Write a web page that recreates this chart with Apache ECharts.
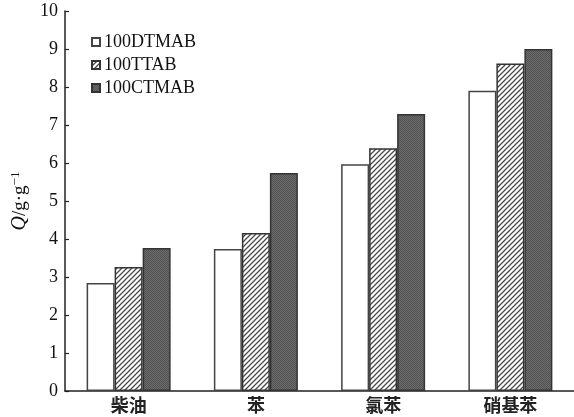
<!DOCTYPE html>
<html>
<head>
<meta charset="utf-8">
<script src="https://cdn.jsdelivr.net/npm/echarts@6/dist/echarts.min.js"></script>
<style>
  html, body { margin: 0; padding: 0; background: #fff; }
  #chart { width: 574px; height: 417px; }
</style>
</head>
<body>
<div id="chart"></div>
<script>
// Adsorption capacity of the three sorbents for each oil
const categories = ['柴油', '苯', '氯苯', '硝基苯'];
const seriesNames = ['100DTMAB', '100TTAB', '100CTMAB'];
const dtmab = [2.84, 3.74, 5.97, 7.90];
const ttab = [3.26, 4.16, 6.39, 8.62];
const ctmab = [3.76, 5.74, 7.29, 9.00];
const yTicks = [0, 1, 2, 3, 4, 5, 6, 7, 8, 9, 10];

// Diagonal hatching fill
function hatchPattern() {
  const c = document.createElement('canvas');
  c.width = 5; c.height = 5;
  const g = c.getContext('2d');
  g.fillStyle = '#ffffff';
  g.fillRect(0, 0, 5, 5);
  g.strokeStyle = '#4a4a4a';
  g.lineWidth = 1.3;
  g.beginPath();
  g.moveTo(0, 5); g.lineTo(5, 0);
  g.moveTo(-2.5, 2.5); g.lineTo(2.5, -2.5);
  g.moveTo(2.5, 7.5); g.lineTo(7.5, 2.5);
  g.stroke();
  return c;
}

// Fine stipple fill for the dark bars
function stipplePattern() {
  const c = document.createElement('canvas');
  c.width = 2; c.height = 2;
  const g = c.getContext('2d');
  g.fillStyle = '#6c6c6c';
  g.fillRect(0, 0, 2, 2);
  g.fillStyle = '#525252';
  g.fillRect(0, 0, 1, 1);
  g.fillRect(1, 1, 1, 1);
  return c;
}

const fills = [
  '#ffffff',
  { image: hatchPattern(), repeat: 'repeat' },
  { image: stipplePattern(), repeat: 'repeat' }
];
const borders = ['#444', '#333', '#333'];
const values = [dtmab, ttab, ctmab];

const chart = echarts.init(document.getElementById('chart'), null, { renderer: 'canvas' });
chart.setOption({
  animation: false,
  backgroundColor: '#ffffff',
  grid: { left: 65, right: -2, top: 11, bottom: 26 },
  legend: {
    orient: 'vertical',
    left: 86,
    top: 28,
    itemWidth: 8,
    itemHeight: 8,
    itemGap: 5,
    icon: 'rect',
    textStyle: { fontFamily: 'Liberation Serif', fontSize: 18, color: '#111', padding: [0, 0, 0, -1] },
    data: seriesNames
  },
  xAxis: {
    type: 'category',
    data: categories,
    axisLine: { lineStyle: { color: '#222', width: 1.5 } },
    axisTick: { show: false },
    axisLabel: {
      fontFamily: 'Noto Sans CJK SC',
      fontWeight: 'bold',
      fontSize: 18,
      color: '#222',
      margin: 5
    }
  },
  yAxis: {
    type: 'value',
    min: yTicks[0],
    max: yTicks[yTicks.length - 1],
    interval: 1,
    name: '{q|Q}{u|/g·g}{s|−1}',
    nameLocation: 'middle',
    nameGap: 34,
    nameMoveOverlap: false,
    nameRotate: 90,
    nameTextStyle: {
      fontSize: 18,
      rich: {
        q: { fontFamily: 'Liberation Serif', fontStyle: 'italic', fontSize: 20, color: '#111' },
        u: { fontFamily: 'Liberation Serif', fontSize: 19, color: '#111' },
        s: { fontFamily: 'Liberation Serif', fontSize: 13, color: '#111', verticalAlign: 'top', padding: [0, 0, 9, 0] }
      }
    },
    splitLine: { show: false },
    axisLine: { show: true, lineStyle: { color: '#222', width: 1.5 } },
    axisTick: { show: true, inside: true, length: 4, lineStyle: { color: '#222', width: 1.2 } },
    axisLabel: { fontFamily: 'Liberation Serif', fontSize: 18, color: '#111', margin: 7 }
  },
  series: seriesNames.map((name, i) => ({
    name: name,
    type: 'bar',
    data: values[i],
    barWidth: 28,
    barGap: '0%',
    itemStyle: { color: fills[i], borderColor: borders[i], borderWidth: 1.5 }
  }))
});
</script>
</body>
</html>
